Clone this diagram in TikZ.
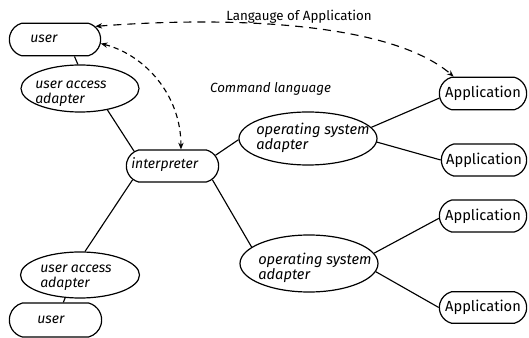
\documentclass[tikz,border=0pt]{standalone}
\usepackage{fontspec}
\setmainfont{Fira Sans}
\usetikzlibrary{shapes.geometric,shapes.misc,arrows.meta}
\begin{document}
\begin{tikzpicture}[x=0.75pt,y=-0.75pt,
  every node/.style={font=\fontsize{11}{12}\selectfont},
  rbox/.style={draw,rounded rectangle,rounded rectangle arc length=150,minimum height=24.5pt,inner sep=1pt,line width=0.9pt},
  ell/.style={draw,ellipse,inner sep=0pt,line width=0.9pt},
  itx/.style={anchor=west,inner sep=0pt,align=left,font=\fontsize{10.5}{11.25}\selectfont\itshape},
  conn/.style={line width=0.85pt},
  tipx/.style={{Stealth[length=5pt,width=4pt]}-{Stealth[length=5pt,width=4pt]}},
  longdash/.style={tipx,line width=0.85pt,dash pattern=on 6pt off 4.5pt},
  shortdash/.style={tipx,line width=0.85pt,dash pattern=on 4pt off 3pt}]
\useasboundingbox (0,0) rectangle (529,338);

% boxes
\node[rbox,minimum width=70.5pt] (u1) at (55,39.5) {};
\node[rbox,minimum width=71.25pt,minimum height=24pt] (ip) at (172.5,166) {};
\node[rbox,minimum width=71.25pt,minimum height=25.5pt] (u2) at (55.5,320) {};
\node[rbox,minimum width=67.5pt] (a1) at (483,93.5) {Application};
\node[rbox,minimum width=66pt,minimum height=24pt] (a2) at (484,160) {Application};
\node[rbox,minimum width=67.5pt,minimum height=24pt] (a3) at (483,216) {Application};
\node[rbox,minimum width=67.5pt,minimum height=23.5pt] (a4) at (483,307.5) {Application};

% ellipses
\node[ell,minimum width=88.5pt,minimum height=35.25pt] (e1) at (80,88.5) {};
\node[ell,minimum width=103.5pt,minimum height=39.75pt] (os1) at (308,138.5) {};
\node[ell,minimum width=103.5pt,minimum height=42.75pt] (os2) at (309,263.5) {};
\node[ell,minimum width=89.25pt,minimum height=34.5pt] (e2) at (80,275) {};

% texts
\node[itx] (tu1) at (30,39) {user};
\node[itx] (tu2) at (37,320) {user};
\node[itx] (tip) at (131,165) {interpreter};
\node[itx] (te1) at (35,93.5) {user access\\adapter};
\node[itx] (te2) at (40,278) {user access\\adapter};
\node[itx,font=\fontsize{11}{11.25}\selectfont\itshape] (tos1) at (256,138) {operating system\\adapter};
\node[itx,font=\fontsize{11}{11.25}\selectfont\itshape] (tos2) at (258,268) {operating system\\adapter};
\node[font=\fontsize{10}{12}\selectfont\itshape] (cl) at (270.5,89) {Command language};
\node[font=\fontsize{10}{12}\selectfont] (lt) at (299,16.5) {Langauge of Application};

% connectors
\draw[conn] (u1.-41) -- (e1.95);
\draw[conn] (e1.-38.5) -- (ip.159);
\draw[conn] (ip.14) -- (os1.181);
\draw[conn] (ip.-19.7) -- (os2.164.5);
\draw[conn] (ip.199.5) -- (e2.78);
\draw[conn] (e2.-123) -- (u2.66);
\draw[conn] (os1.10) -- (a1.186);
\draw[conn] (os1.-3) -- (a2.180);
\draw[conn] (os2.9) -- (a3.183);
\draw[conn] (os2.-7.3) -- (a4.180);

% dashed arrows
\draw[longdash] (u1.18) .. controls (230,16) and (390,22) .. (a1.150);
\draw[shortdash] (u1.-5) .. controls (145,55) and (181,95) .. (ip.63);
\end{tikzpicture}
\end{document}
